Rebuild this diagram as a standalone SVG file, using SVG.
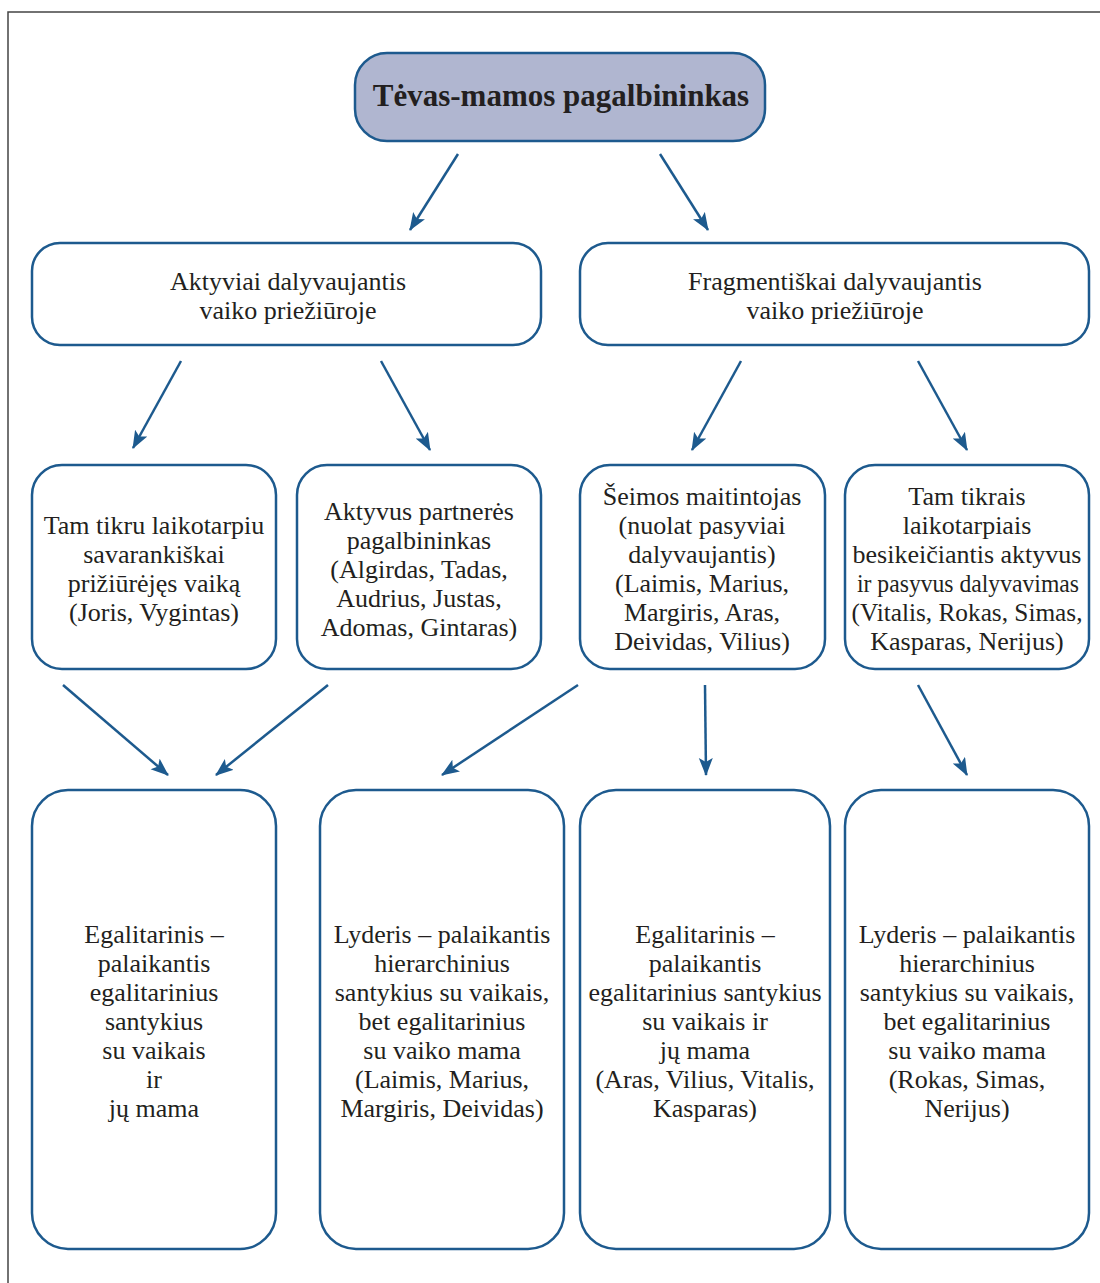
<svg xmlns="http://www.w3.org/2000/svg" width="1100" height="1283" viewBox="0 0 1100 1283">
<style>
.box{fill:#fff;stroke:#1d5a8e;stroke-width:2.5}
.top{fill:#b0b6d0;stroke:#1d5a8e;stroke-width:2.5}
.t{font-family:"Liberation Serif","Times New Roman",serif;font-size:26px;fill:#231f20;text-anchor:middle}
.tb{font-family:"Liberation Serif","Times New Roman",serif;font-size:31px;font-weight:bold;fill:#231f20;text-anchor:middle}
.c{stroke:#1d5a8e;stroke-width:2.5;fill:none;marker-end:url(#ah)}
</style>
<defs>
<marker id="ah" markerUnits="userSpaceOnUse" markerWidth="20" markerHeight="16" refX="17" refY="7" orient="auto">
<path d="M0,0 L18,7 L0,14 L4,7 z" fill="#1d5a8e"/>
</marker>
</defs>
<rect width="1100" height="1283" fill="#fff"/>
<path d="M8,1283 V12 H1100" fill="none" stroke="#444" stroke-width="1.5"/>

<g id="n0"><rect class="top" x="355" y="53" width="410" height="88" rx="32"/><text class="tb" x="561" y="106">Tėvas-mamos pagalbininkas</text></g>

<g id="n1"><rect class="box" x="32" y="243" width="509" height="102" rx="28"/>
<text class="t" x="288" y="290">Aktyviai dalyvaujantis</text><text class="t" x="288" y="319">vaiko priežiūroje</text></g>
<g id="n2"><rect class="box" x="580" y="243" width="509" height="102" rx="28"/>
<text class="t" x="835" y="290">Fragmentiškai dalyvaujantis</text><text class="t" x="835" y="319">vaiko priežiūroje</text></g>

<g id="n3"><rect class="box" x="32" y="465" width="244" height="204" rx="30"/>
<text class="t" x="154" y="534">Tam tikru laikotarpiu</text>
<text class="t" x="154" y="563">savarankiškai</text>
<text class="t" x="154" y="592">prižiūrėjęs vaiką</text>
<text class="t" x="154" y="621">(Joris, Vygintas)</text></g>
<g id="n4"><rect class="box" x="297" y="465" width="244" height="204" rx="30"/>
<text class="t" x="419" y="520">Aktyvus partnerės</text>
<text class="t" x="419" y="549">pagalbininkas</text>
<text class="t" x="419" y="578">(Algirdas, Tadas,</text>
<text class="t" x="419" y="607">Audrius, Justas,</text>
<text class="t" x="419" y="636">Adomas, Gintaras)</text></g>
<g id="n5"><rect class="box" x="580" y="465" width="245" height="204" rx="30"/>
<text class="t" x="702" y="505">Šeimos maitintojas</text>
<text class="t" x="702" y="534">(nuolat pasyviai</text>
<text class="t" x="702" y="563">dalyvaujantis)</text>
<text class="t" x="702" y="592">(Laimis, Marius,</text>
<text class="t" x="702" y="621">Margiris, Aras,</text>
<text class="t" x="702" y="650">Deividas, Vilius)</text></g>
<g id="n6"><rect class="box" x="845" y="465" width="244" height="204" rx="30"/>
<text class="t" x="967" y="505">Tam tikrais</text>
<text class="t" x="967" y="534">laikotarpiais</text>
<text class="t" x="967" y="563">besikeičiantis aktyvus</text>
<text class="t" x="968" y="592" textLength="222" lengthAdjust="spacingAndGlyphs">ir pasyvus dalyvavimas</text>
<text class="t" x="967" y="621" textLength="231" lengthAdjust="spacingAndGlyphs">(Vitalis, Rokas, Simas,</text>
<text class="t" x="967" y="650">Kasparas, Nerijus)</text></g>

<g id="n7"><rect class="box" x="32" y="790" width="244" height="459" rx="36"/>
<text class="t" x="154" y="943">Egalitarinis –</text>
<text class="t" x="154" y="972">palaikantis</text>
<text class="t" x="154" y="1001">egalitarinius</text>
<text class="t" x="154" y="1030">santykius</text>
<text class="t" x="154" y="1059">su vaikais</text>
<text class="t" x="154" y="1088">ir</text>
<text class="t" x="154" y="1117">jų mama</text></g>
<g id="n8"><rect class="box" x="320" y="790" width="244" height="459" rx="36"/>
<text class="t" x="442" y="943">Lyderis – palaikantis</text>
<text class="t" x="442" y="972">hierarchinius</text>
<text class="t" x="442" y="1001">santykius su vaikais,</text>
<text class="t" x="442" y="1030">bet egalitarinius</text>
<text class="t" x="442" y="1059">su vaiko mama</text>
<text class="t" x="442" y="1088">(Laimis, Marius,</text>
<text class="t" x="442" y="1117">Margiris, Deividas)</text></g>
<g id="n9"><rect class="box" x="580" y="790" width="250" height="459" rx="36"/>
<text class="t" x="705" y="943">Egalitarinis –</text>
<text class="t" x="705" y="972">palaikantis</text>
<text class="t" x="705" y="1001">egalitarinius santykius</text>
<text class="t" x="705" y="1030">su vaikais ir</text>
<text class="t" x="705" y="1059">jų mama</text>
<text class="t" x="705" y="1088">(Aras, Vilius, Vitalis,</text>
<text class="t" x="705" y="1117">Kasparas)</text></g>
<g id="n10"><rect class="box" x="845" y="790" width="244" height="459" rx="36"/>
<text class="t" x="967" y="943">Lyderis – palaikantis</text>
<text class="t" x="967" y="972">hierarchinius</text>
<text class="t" x="967" y="1001">santykius su vaikais,</text>
<text class="t" x="967" y="1030">bet egalitarinius</text>
<text class="t" x="967" y="1059">su vaiko mama</text>
<text class="t" x="967" y="1088">(Rokas, Simas,</text>
<text class="t" x="967" y="1117">Nerijus)</text></g>

<g id="connectors">
<line class="c" x1="458" y1="154" x2="410" y2="230"/>
<line class="c" x1="660" y1="154" x2="708" y2="230"/>
<line class="c" x1="181" y1="361" x2="133" y2="448"/>
<line class="c" x1="381" y1="361" x2="430" y2="450"/>
<line class="c" x1="741" y1="361" x2="692" y2="450"/>
<line class="c" x1="918" y1="361" x2="967" y2="450"/>
<line class="c" x1="63" y1="685" x2="168" y2="775"/>
<line class="c" x1="328" y1="685" x2="216" y2="775"/>
<line class="c" x1="578" y1="685" x2="442" y2="775"/>
<line class="c" x1="705" y1="685" x2="706" y2="775"/>
<line class="c" x1="918" y1="685" x2="967" y2="775"/>
</g>
</svg>
